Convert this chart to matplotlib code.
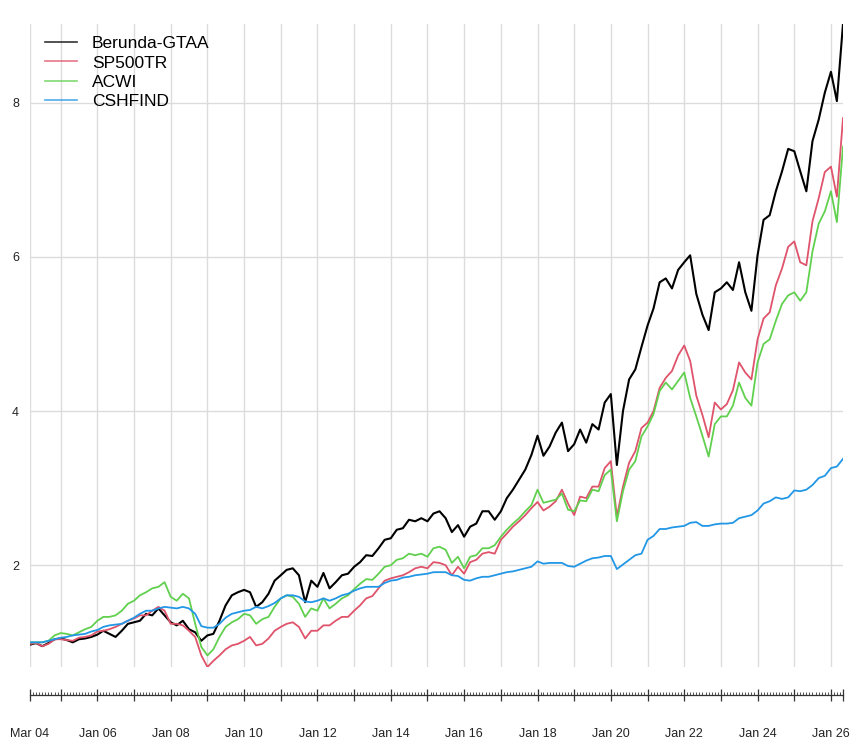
import pandas as pd
import matplotlib
matplotlib.use("Agg")
import matplotlib.pyplot as plt
import matplotlib.dates as mdates
import matplotlib.ticker as mticker

plt.rcParams['font.family'] = ['Liberation Sans', 'DejaVu Sans']

# bimonthly observations, Mar 2004 .. May 2026
start_date = "2004-03-01"

berunda = [
    0.97, 0.99, 0.95, 0.99, 1.04,
    1.05, 1.03, 1.00, 1.04, 1.05, 1.07,
    1.10, 1.15, 1.11, 1.07, 1.15, 1.24,
    1.26, 1.28, 1.37, 1.35, 1.44, 1.35,
    1.26, 1.22, 1.28, 1.17, 1.13, 1.02,
    1.09, 1.11, 1.28, 1.48, 1.61, 1.65,
    1.68, 1.65, 1.46, 1.52, 1.63, 1.80,
    1.87, 1.94, 1.96, 1.87, 1.52, 1.80,
    1.72, 1.90, 1.70, 1.78, 1.87, 1.89,
    1.98, 2.04, 2.13, 2.12, 2.22, 2.33,
    2.35, 2.46, 2.48, 2.59, 2.57, 2.61,
    2.57, 2.67, 2.70, 2.61, 2.43, 2.52,
    2.37, 2.50, 2.54, 2.70, 2.70, 2.59,
    2.70, 2.87, 2.98, 3.11, 3.24, 3.43,
    3.68, 3.42, 3.54, 3.72, 3.85, 3.48,
    3.57, 3.76, 3.59, 3.83, 3.76, 4.11,
    4.22, 3.30, 4.00, 4.41, 4.54, 4.83,
    5.11, 5.33, 5.67, 5.72, 5.59, 5.83,
    5.93, 6.02, 5.52, 5.25, 5.05, 5.54,
    5.59, 5.67, 5.57, 5.93, 5.54, 5.30,
    6.02, 6.48, 6.54, 6.85, 7.11, 7.40,
    7.37, 7.11, 6.85, 7.50, 7.78, 8.13,
    8.40, 8.02, 9.02,
]

sp500tr = [
    0.98, 0.99, 0.95, 0.98, 1.04,
    1.04, 1.03, 1.02, 1.06, 1.07, 1.09,
    1.14, 1.15, 1.17, 1.20, 1.24, 1.28,
    1.31, 1.35, 1.35, 1.41, 1.46, 1.41,
    1.24, 1.24, 1.22, 1.15, 1.07, 0.83,
    0.68, 0.76, 0.83, 0.91, 0.96, 0.98,
    1.02, 1.07, 0.96, 0.98, 1.05, 1.15,
    1.20, 1.24, 1.26, 1.20, 1.05, 1.15,
    1.15, 1.22, 1.22, 1.28, 1.33, 1.33,
    1.41, 1.48, 1.57, 1.60, 1.70, 1.80,
    1.83, 1.85, 1.87, 1.91, 1.96, 1.98,
    1.96, 2.04, 2.03, 2.00, 1.87, 1.98,
    1.89, 2.04, 2.07, 2.15, 2.17, 2.15,
    2.33, 2.41, 2.50, 2.57, 2.65, 2.74,
    2.82, 2.71, 2.76, 2.83, 2.98, 2.80,
    2.65, 2.89, 2.87, 3.02, 3.02, 3.26,
    3.35, 2.63, 3.02, 3.33, 3.48, 3.78,
    3.85, 4.00, 4.30, 4.43, 4.52, 4.72,
    4.85, 4.65, 4.20, 3.95, 3.66, 4.11,
    4.02, 4.09, 4.27, 4.63, 4.50, 4.41,
    4.93, 5.20, 5.28, 5.63, 5.85, 6.13,
    6.20, 5.93, 5.89, 6.46, 6.76, 7.10,
    7.17, 6.78, 7.80,
]

acwi = [
    1.00, 1.00, 1.00, 1.02, 1.09,
    1.12, 1.11, 1.09, 1.13, 1.17, 1.20,
    1.28, 1.33, 1.33, 1.35, 1.41, 1.50,
    1.54, 1.61, 1.65, 1.70, 1.72, 1.78,
    1.59, 1.54, 1.63, 1.57, 1.24, 0.94,
    0.83, 0.91, 1.07, 1.20, 1.26, 1.30,
    1.37, 1.35, 1.24, 1.30, 1.33, 1.46,
    1.57, 1.61, 1.59, 1.50, 1.33, 1.44,
    1.41, 1.57, 1.44, 1.50, 1.57, 1.61,
    1.69, 1.76, 1.82, 1.81, 1.89, 1.98,
    2.00, 2.07, 2.09, 2.15, 2.13, 2.15,
    2.11, 2.22, 2.24, 2.20, 2.03, 2.11,
    1.96, 2.11, 2.13, 2.22, 2.22, 2.26,
    2.37, 2.46, 2.54, 2.61, 2.70, 2.78,
    2.98, 2.81, 2.83, 2.85, 2.93, 2.72,
    2.70, 2.84, 2.83, 2.98, 2.96, 3.17,
    3.24, 2.57, 2.96, 3.24, 3.35, 3.67,
    3.80, 3.96, 4.26, 4.37, 4.28, 4.39,
    4.50, 4.17, 3.93, 3.68, 3.41, 3.83,
    3.93, 3.93, 4.07, 4.37, 4.17, 4.07,
    4.63, 4.87, 4.93, 5.17, 5.39, 5.50,
    5.54, 5.43, 5.54, 6.07, 6.43, 6.59,
    6.85, 6.45, 7.43,
]

cshfind = [
    1.00, 1.00, 1.00, 1.02, 1.04,
    1.06, 1.07, 1.09, 1.10, 1.11, 1.14,
    1.16, 1.20, 1.22, 1.23, 1.24, 1.28,
    1.32, 1.37, 1.41, 1.41, 1.44, 1.46,
    1.45, 1.44, 1.46, 1.44, 1.37, 1.21,
    1.19, 1.19, 1.24, 1.32, 1.37, 1.39,
    1.41, 1.42, 1.46, 1.44, 1.47, 1.51,
    1.57, 1.61, 1.61, 1.59, 1.53, 1.52,
    1.54, 1.57, 1.54, 1.57, 1.61, 1.63,
    1.67, 1.70, 1.72, 1.72, 1.72, 1.77,
    1.80, 1.81, 1.84, 1.85, 1.87, 1.88,
    1.89, 1.91, 1.91, 1.91, 1.87, 1.86,
    1.81, 1.80, 1.83, 1.85, 1.85, 1.87,
    1.89, 1.91, 1.92, 1.94, 1.96, 1.98,
    2.05, 2.02, 2.03, 2.03, 2.03, 1.99,
    1.98, 2.02, 2.06, 2.09, 2.10, 2.12,
    2.12, 1.95, 2.01, 2.07, 2.13, 2.15,
    2.33, 2.38, 2.47, 2.47, 2.49, 2.50,
    2.51, 2.55, 2.56, 2.51, 2.51, 2.53,
    2.54, 2.54, 2.55, 2.61, 2.63, 2.65,
    2.71, 2.80, 2.83, 2.88, 2.86, 2.88,
    2.97, 2.96, 2.98, 3.04, 3.13, 3.16,
    3.26, 3.28, 3.38,
]

series_names = ['Berunda-GTAA', 'SP500TR', 'ACWI', 'CSHFIND']
colors = ['#000000', '#DF536B', '#61D04F', '#2297E6']
x_labels = ['Mar 04', '', 'Jan 06', '', 'Jan 08', '', 'Jan 10', '', 'Jan 12', '',
            'Jan 14', '', 'Jan 16', '', 'Jan 18', '', 'Jan 20', '', 'Jan 22', '',
            'Jan 24', '', 'Jan 26', '']

dates = pd.date_range(start_date, periods=len(berunda), freq='2MS')
df = pd.DataFrame({'Berunda-GTAA': berunda, 'SP500TR': sp500tr,
                   'ACWI': acwi, 'CSHFIND': cshfind}, index=dates)

fig = plt.figure(figsize=(8.56, 7.48), dpi=100)
ax = fig.add_axes([30 / 856, 81 / 748, 813 / 856, 643 / 748])

# year gridlines (first obs + every January)
jan_dates = [dates[0]] + list(pd.date_range('2005-01-01', '2026-01-01', freq='YS'))
for d in jan_dates:
    ax.axvline(d, color='#DCDCDC', lw=1.0, zorder=0)
ax.yaxis.grid(True, color='#DCDCDC', lw=1.0)
ax.set_axisbelow(True)

for name, col in zip(series_names, colors):
    ax.plot(df.index, df[name], color=col, lw=1.5 if name == 'Berunda-GTAA' else 1.3,
            label=name, zorder=3)

ax.set_xlim(dates[0], dates[-1])
ax.set_ylim(df.values.min(), df.values.max())

# x axis drawn below the plot region, like xts
for s in ['top', 'right', 'left']:
    ax.spines[s].set_visible(False)
ax.spines['bottom'].set_position(('outward', 20))
ax.spines['bottom'].set_color('#333333')
ax.spines['bottom'].set_linewidth(0.9)

major = jan_dates + [dates[-1]]
ax.xaxis.set_major_locator(mticker.FixedLocator(mdates.date2num(major)))
ax.xaxis.set_major_formatter(mticker.FixedFormatter(x_labels))
ax.xaxis.set_minor_locator(mdates.MonthLocator())
ax.tick_params(axis='x', which='major', direction='inout', length=8, width=0.9,
               color='#333333', labelsize=9, labelcolor='#222222', pad=20)
ax.tick_params(axis='x', which='minor', direction='in', length=2.5, width=0.6,
               color='#333333')

ax.set_yticks([2, 4, 6, 8])
ax.tick_params(axis='y', length=0, labelsize=9, labelcolor='#222222', pad=8)

leg = ax.legend(loc='upper left', bbox_to_anchor=(0.0185, 0.981), frameon=False,
                fontsize=12.5, handlelength=1.85, handletextpad=0.85,
                labelspacing=0.23, borderpad=0, borderaxespad=0)
for h in leg.get_lines():
    h.set_linewidth(1.2)
    h.set_alpha(0.8)

fig.savefig('out.png', dpi=100)
